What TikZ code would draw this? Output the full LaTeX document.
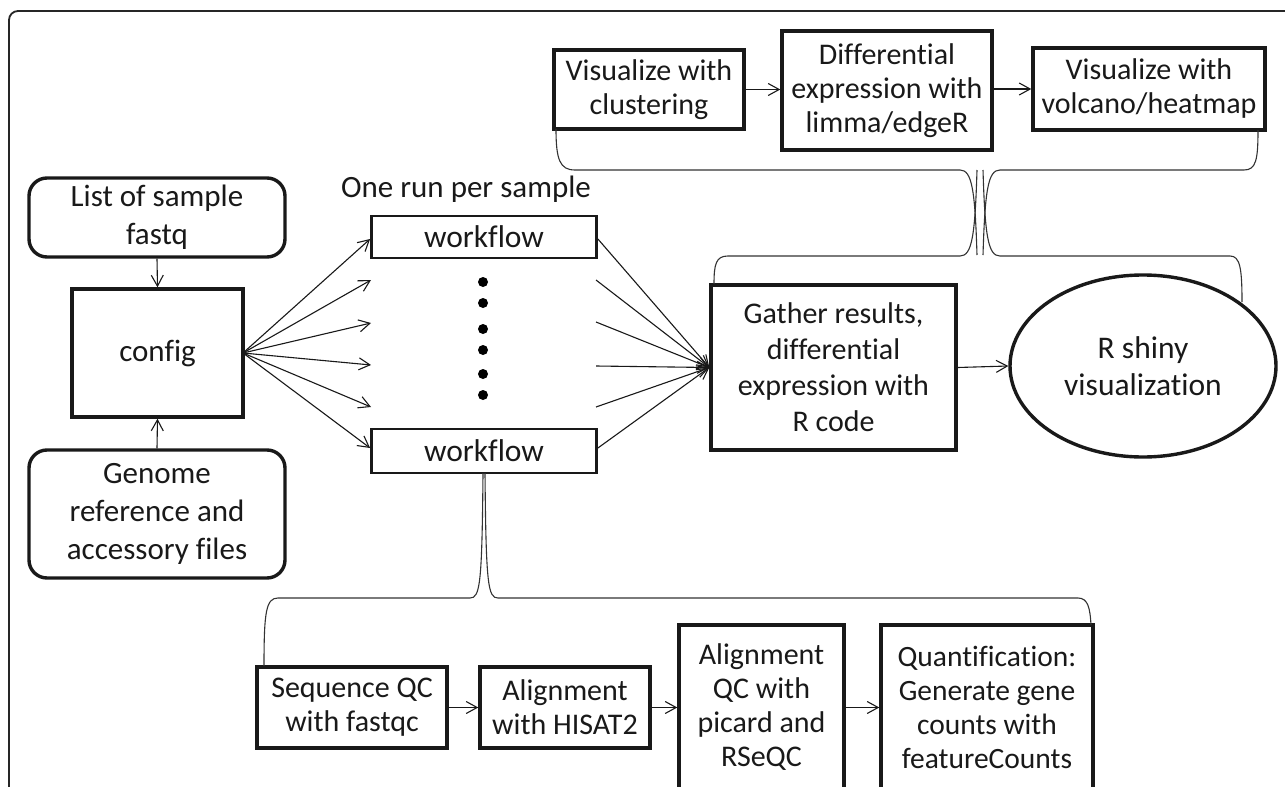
\documentclass[tikz,border=0pt]{standalone}
\usepackage{fontspec}
\setmainfont{Carlito}[Ligatures=NoCommon]
\usetikzlibrary{arrows.meta,shapes.geometric}
\begin{document}
\begin{tikzpicture}[x=1pt,y=-1pt,
  txt/.style={font=\fontsize{30}{36}\selectfont, text=black!90, align=center, inner sep=0pt},
  box/.style={txt, draw=black!90, line width=3.4pt, rectangle},
  rbox/.style={box, rounded corners=18pt},
  arr/.style={-{Straight Barb[length=11pt,width=12pt]}, line width=1.1pt, draw=black!90},
  brace/.style={line width=1.1pt, draw=black!80},
  dotmark/.style={circle, fill=black, inner sep=0pt, minimum size=10pt}
]
\useasboundingbox (0,0) rectangle (1285,787);
\clip (0,0) rectangle (1285,787);
\fill[white] (0,0) rectangle (1285,787);
% outer frame
\draw[line width=1.8pt, draw=black!85, rounded corners=9pt] (9,11) rectangle (1320,830);

% left column
\node[rbox, minimum width=256pt, minimum height=79pt, font=\fontsize{31}{38}\selectfont] (list) at (157,217.5) {List of sample\\fastq};
\node[box, minimum width=171pt, minimum height=128pt, font=\fontsize{31}{38}\selectfont] (config) at (157.5,353) {config};
\node[rbox, minimum width=256pt, minimum height=128pt, font=\fontsize{31}{38}\selectfont] (genome) at (157,514) {Genome\\reference and\\accessory files};
\draw[arr] (list.south) -- (config.north);
\draw[arr] (genome.north) -- (config.south);

% workflows
\node[txt, font=\fontsize{31}{36}\selectfont] (onerun) at (466,189) {One run per sample};
\node[box, line width=2.8pt, minimum width=225pt, minimum height=42pt, font=\fontsize{31.5}{36}\selectfont] (wf1) at (484,237) {workflow};
\node[box, line width=2.8pt, minimum width=225pt, minimum height=44pt, font=\fontsize{31.5}{36}\selectfont] (wf2) at (484,451) {workflow};
\foreach \yy [count=\i] in {282,303,329,350,374,395}
  \node[dotmark] (dot\i) at (483,\yy) {};

\coordinate (src) at (243,353);
\coordinate (a2) at (371,280);
\coordinate (a3) at (371,323);
\coordinate (a4) at (371,365);
\coordinate (a5) at (371,407);
\draw[arr] (src) -- (wf1.west |- 0,239);
\foreach \c in {a2,a3,a4,a5} \draw[arr] (src) -- (\c);
\draw[arr] (src) -- (wf2.west |- 0,448);

% gather
\node[box, minimum width=245pt, minimum height=165pt] (gather) at (833.5,367.5) {Gather results,\\differential\\expression with\\R code};
\coordinate (b2) at (596,280);
\coordinate (b3) at (596,322);
\coordinate (b4) at (596,366);
\coordinate (b5) at (596,407);
\draw[arr] (wf1.east |- 0,239) -- (gather.west);
\foreach \c in {b2,b3,b4,b5} \draw[arr] (\c) -- (gather.west);
\draw[arr] (wf2.east |- 0,448) -- (gather.west);

\node[box, ellipse, minimum width=266pt, minimum height=182pt, font=\fontsize{31.5}{37}\selectfont] (shiny) at (1143,366) {R shiny\\visualization};
\draw[arr] (gather.east) -- (shiny.west);

% top row
\node[box, minimum width=190pt, minimum height=79pt, font=\fontsize{30}{34}\selectfont] (clust) at (649,89.5) {Visualize with\\clustering};
\node[box, minimum width=210pt, minimum height=119pt, font=\fontsize{30}{34}\selectfont] (diff) at (887,90.5) {Differential\\expression with\\limma/edgeR};
\node[box, minimum width=232pt, minimum height=82pt, font=\fontsize{30}{34}\selectfont] (volc) at (1149,89) {Visualize with\\volcano/heatmap};
\draw[arr] (clust.east) -- (clust.east -| diff.west);
\draw[arr] (diff.east |- volc.west) -- (volc.west);

% bottom row
\node[box, minimum width=190pt, minimum height=81pt, font=\fontsize{30}{34}\selectfont] (seq) at (352,707.5) {Sequence QC\\with fastqc};
\node[box, minimum width=170pt, minimum height=81pt, font=\fontsize{30}{34}\selectfont] (hisat) at (565,707.5) {Alignment\\with HISAT2};
\node[box, minimum width=165pt, minimum height=165pt, font=\fontsize{30}{34}\selectfont] (aqc) at (761.5,707.5) {Alignment\\QC with\\picard and\\RSeQC};
\node[box, minimum width=212pt, minimum height=165pt, font=\fontsize{29.5}{34}\selectfont] (quant) at (987,707.5) {Quantification:\\Generate gene\\counts with\\featureCounts};
\draw[arr] (seq.east) -- (hisat.west);
\draw[arr] (hisat.east) -- (aqc.west);
\draw[arr] (aqc.east) -- (quant.west);

% braces
\draw[brace] (556,129) .. controls (556,160) and (560,170) .. (575,170) -- (960,170) .. controls (972,170) and (975,190) .. (977,255);
\draw[brace] (983,255) .. controls (985,190) and (988,170) .. (1000,170) -- (1244,170) .. controls (1256,170) and (1258,160) .. (1258,130);
\draw[brace] (714,284) .. controls (714,264) and (716,256) .. (728,256) -- (960,256) .. controls (972,256) and (975,236) .. (977,170);
\draw[brace] (983,170) .. controls (985,236) and (988,256) .. (1000,256) -- (1230,256) .. controls (1240,256) and (1242,268) .. (1242,302);
\draw[brace] (264,666) .. controls (264,612) and (266,598) .. (278,598) -- (470,598) .. controls (480,598) and (482,585) .. (483,473);
\draw[brace] (485,473) .. controls (486,585) and (488,598) .. (498,598) -- (1078,598) .. controls (1088,598) and (1090,608) .. (1091,625);
\end{tikzpicture}
\end{document}
